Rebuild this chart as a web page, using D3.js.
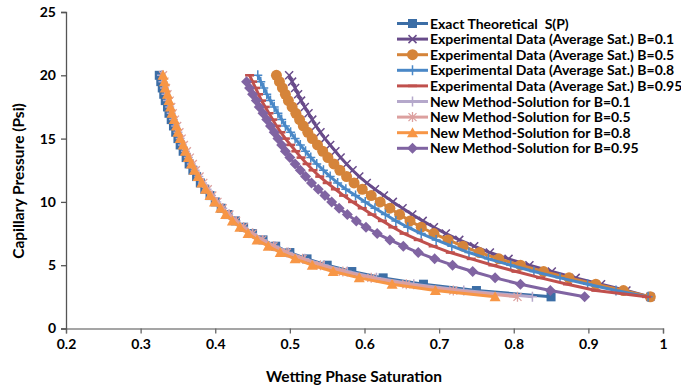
<!DOCTYPE html>
<html>
<head>
<meta charset="utf-8">
<script src="https://cdn.jsdelivr.net/npm/d3@7"></script>
<style>
  body { margin: 0; background: #fff; }
  svg { display: block; }
  text { font-family: Lato, "Open Sans", sans-serif; font-weight: bold; fill: #000; }
</style>
</head>
<body>
<div id="chart"></div>
<script>
// capillary pressure steps (psi), shared by all series
const pressure = [20, 19.5, 19, 18.5, 18, 17.5, 17, 16.5, 16, 15.5, 15, 14.5, 14, 13.5, 13, 12.5, 12, 11.5,
  11, 10.5, 10, 9.5, 9, 8.5, 8, 7.5, 7, 6.5, 6, 5.5, 5, 4.5, 4, 3.5, 3, 2.5];

const satExact = [0.325, 0.327, 0.329, 0.331, 0.333, 0.336, 0.338, 0.341, 0.344, 0.347, 0.350, 0.353, 0.357,
  0.361, 0.365, 0.370, 0.375, 0.380, 0.386, 0.393, 0.400, 0.408, 0.417, 0.427, 0.438, 0.450, 0.464, 0.481,
  0.500, 0.523, 0.550, 0.583, 0.625, 0.679, 0.750, 0.850];

const satExpB01 = [0.499, 0.503, 0.507, 0.511, 0.515, 0.520, 0.525, 0.530, 0.535, 0.541, 0.547, 0.554, 0.561,
  0.568, 0.576, 0.584, 0.593, 0.603, 0.614, 0.626, 0.638, 0.651, 0.664, 0.678, 0.693, 0.709, 0.727, 0.747,
  0.768, 0.793, 0.821, 0.851, 0.883, 0.917, 0.951, 0.983];

const satExpB05 = [0.482, 0.486, 0.490, 0.494, 0.498, 0.503, 0.508, 0.513, 0.518, 0.524, 0.530, 0.537, 0.544,
  0.551, 0.559, 0.567, 0.576, 0.586, 0.597, 0.609, 0.621, 0.634, 0.647, 0.661, 0.676, 0.693, 0.712, 0.732,
  0.754, 0.780, 0.809, 0.840, 0.874, 0.910, 0.947, 0.983];

const satExpB08 = [0.457, 0.461, 0.465, 0.469, 0.474, 0.479, 0.484, 0.489, 0.494, 0.501, 0.507, 0.514, 0.521,
  0.528, 0.536, 0.545, 0.554, 0.564, 0.575, 0.588, 0.601, 0.614, 0.628, 0.642, 0.658, 0.676, 0.696, 0.717,
  0.740, 0.766, 0.796, 0.827, 0.862, 0.899, 0.937, 0.980];

const satExpB095 = [0.446, 0.450, 0.454, 0.458, 0.462, 0.467, 0.472, 0.477, 0.482, 0.488, 0.494, 0.501, 0.508,
  0.515, 0.523, 0.531, 0.540, 0.550, 0.561, 0.572, 0.584, 0.597, 0.610, 0.624, 0.638, 0.653, 0.672, 0.692,
  0.715, 0.743, 0.772, 0.803, 0.836, 0.872, 0.910, 0.978];

const satNewB01 = [0.328, 0.330, 0.332, 0.334, 0.336, 0.339, 0.341, 0.344, 0.347, 0.350, 0.353, 0.356, 0.360,
  0.364, 0.368, 0.373, 0.378, 0.383, 0.389, 0.395, 0.402, 0.410, 0.418, 0.428, 0.438, 0.450, 0.464, 0.480,
  0.498, 0.520, 0.546, 0.577, 0.616, 0.666, 0.733, 0.825];

const satNewB05 = [0.330, 0.332, 0.334, 0.336, 0.339, 0.341, 0.343, 0.346, 0.349, 0.352, 0.355, 0.358, 0.362,
  0.366, 0.370, 0.374, 0.379, 0.384, 0.390, 0.396, 0.403, 0.410, 0.419, 0.428, 0.438, 0.450, 0.463, 0.478,
  0.496, 0.517, 0.541, 0.571, 0.609, 0.656, 0.719, 0.805];

const satNewB08 = [0.330, 0.332, 0.333, 0.336, 0.338, 0.340, 0.342, 0.345, 0.348, 0.350, 0.353, 0.357, 0.360,
  0.364, 0.368, 0.372, 0.377, 0.382, 0.387, 0.393, 0.399, 0.407, 0.414, 0.423, 0.433, 0.444, 0.456, 0.471,
  0.487, 0.507, 0.530, 0.558, 0.593, 0.637, 0.695, 0.775];

// this one starts at 19.5 psi
const satNewB095 = [0.442, 0.446, 0.450, 0.455, 0.459, 0.464, 0.469, 0.474, 0.479, 0.484, 0.489, 0.494,
  0.500, 0.507, 0.514, 0.521, 0.529, 0.538, 0.547, 0.556, 0.566, 0.577, 0.589, 0.602, 0.617, 0.634, 0.652,
  0.672, 0.694, 0.718, 0.745, 0.775, 0.809, 0.849, 0.895];

const xTicks = [0.2, 0.3, 0.4, 0.5, 0.6, 0.7, 0.8, 0.9, 1];
const yTicks = [0, 5, 10, 15, 20, 25];

const series = [
  { name: 'Exact Theoretical  S(P)', sat: satExact, p: pressure, color: '#3C6EA6', marker: 'square' },
  { name: 'Experimental Data (Average Sat.) B=0.1', sat: satExpB01, p: pressure, color: '#684B8A', marker: 'x' },
  { name: 'Experimental Data (Average Sat.) B=0.5', sat: satExpB05, p: pressure, color: '#D5843A', marker: 'circle' },
  { name: 'Experimental Data (Average Sat.) B=0.8', sat: satExpB08, p: pressure, color: '#4A88C7', marker: 'plus' },
  { name: 'Experimental Data (Average Sat.) B=0.95', sat: satExpB095, p: pressure, color: '#C0504D', marker: 'dash' },
  { name: 'New Method-Solution for B=0.1', sat: satNewB01, p: pressure, color: '#B5A8CB', marker: 'plus' },
  { name: 'New Method-Solution for B=0.5', sat: satNewB05, p: pressure, color: '#DCA09F', marker: 'star' },
  { name: 'New Method-Solution for B=0.8', sat: satNewB08, p: pressure, color: '#F79646', marker: 'triangle' },
  { name: 'New Method-Solution for B=0.95', sat: satNewB095, p: pressure.slice(1), color: '#8064A2', marker: 'diamond' }
];

const width = 681, height = 390;
const margin = { top: 12, right: 18, bottom: 62, left: 66 };

const svg = d3.select('#chart').append('svg')
  .attr('width', width)
  .attr('height', height);

const x = d3.scaleLinear().domain([0.2, 1]).range([margin.left, width - margin.right]);
const y = d3.scaleLinear().domain([0, 25]).range([height - margin.bottom + 0.5, margin.top]);

// axes
const xAxis = svg.append('g')
  .attr('transform', `translate(0,${y(0)})`)
  .call(d3.axisBottom(x).tickValues(xTicks).tickSize(5).tickPadding(6).tickFormat(d3.format('')));
xAxis.select('.domain').attr('stroke', '#888').attr('stroke-width', 1.3);
xAxis.selectAll('.tick line').attr('stroke', '#666').attr('stroke-width', 1.3);
xAxis.selectAll('.tick text').attr('font-size', 14).attr('font-family', 'Lato, sans-serif').attr('font-weight', 'bold').attr('fill', '#000');

const yAxis = svg.append('g')
  .attr('transform', `translate(${x(0.2)},0)`)
  .call(d3.axisLeft(y).tickValues(yTicks).tickSize(5).tickPadding(5));
yAxis.select('.domain').attr('stroke', '#555').attr('stroke-width', 1.3);
yAxis.selectAll('.tick line').attr('stroke', '#555').attr('stroke-width', 1.3);
yAxis.selectAll('.tick text').attr('font-size', 14).attr('font-family', 'Lato, sans-serif').attr('font-weight', 'bold').attr('fill', '#000');

svg.append('text')
  .attr('x', 354).attr('y', 382)
  .attr('text-anchor', 'middle')
  .attr('font-size', 15.5)
  .text('Wetting Phase Saturation');

svg.append('text')
  .attr('transform', `translate(24,181) rotate(-90)`)
  .attr('text-anchor', 'middle')
  .attr('font-size', 15.5)
  .text('Capillary Pressure (Psi)');

// marker shapes
function drawMarker(g, type, color) {
  switch (type) {
    case 'square':
      g.append('rect').attr('x', -4.5).attr('y', -4.5).attr('width', 9).attr('height', 9).attr('fill', color);
      break;
    case 'circle':
      g.append('circle').attr('r', 5.5).attr('fill', color);
      break;
    case 'triangle':
      g.append('path').attr('d', 'M0,-5.5L5.5,4.5L-5.5,4.5Z').attr('fill', color);
      break;
    case 'diamond':
      g.append('path').attr('d', 'M0,-5.5L5.5,0L0,5.5L-5.5,0Z').attr('fill', color);
      break;
    case 'x':
      g.append('path').attr('d', 'M-4,-4L4,4M-4,4L4,-4').attr('stroke', color).attr('stroke-width', 1.5).attr('fill', 'none');
      break;
    case 'plus':
      g.append('path').attr('d', 'M-4.5,0H4.5M0,-5V5').attr('stroke', color).attr('stroke-width', 1.5).attr('fill', 'none');
      break;
    case 'star':
      g.append('path').attr('d', 'M-4,-4L4,4M-4,4L4,-4M0,-5V5').attr('stroke', color).attr('stroke-width', 1.3).attr('fill', 'none');
      break;
    case 'dash':
      g.append('rect').attr('x', -4.5).attr('y', -1.3).attr('width', 9).attr('height', 2.6).attr('fill', color);
      break;
  }
}

const line = d3.line().x(d => x(d[0])).y(d => y(d[1]));

const plot = svg.append('g').attr('class', 'series');
series.forEach(s => {
  const pts = s.sat.map((v, i) => [v, s.p[i]]);
  const g = plot.append('g');
  g.append('path')
    .datum(pts)
    .attr('d', line)
    .attr('fill', 'none')
    .attr('stroke', s.color)
    .attr('stroke-width', 3)
    .attr('stroke-linejoin', 'round');
  g.selectAll('g.m').data(pts).enter().append('g')
    .attr('class', 'm')
    .attr('transform', d => `translate(${x(d[0])},${y(d[1])})`)
    .each(function () { drawMarker(d3.select(this), s.marker, s.color); });
});

// legend
const legend = svg.append('g').attr('class', 'legend');
series.forEach((s, i) => {
  const ly = 23.5 + i * 15.6;
  const row = legend.append('g').attr('transform', `translate(397,${ly})`);
  row.append('line').attr('x1', 0).attr('x2', 31).attr('y1', 0).attr('y2', 0)
    .attr('stroke', s.color).attr('stroke-width', 3);
  const m = row.append('g').attr('transform', 'translate(15.5,0)');
  drawMarker(m, s.marker, s.color);
  row.append('text').attr('x', 33).attr('y', 5).attr('font-size', 14)
    .style('white-space', 'pre').text(s.name);
});
</script>
</body>
</html>
